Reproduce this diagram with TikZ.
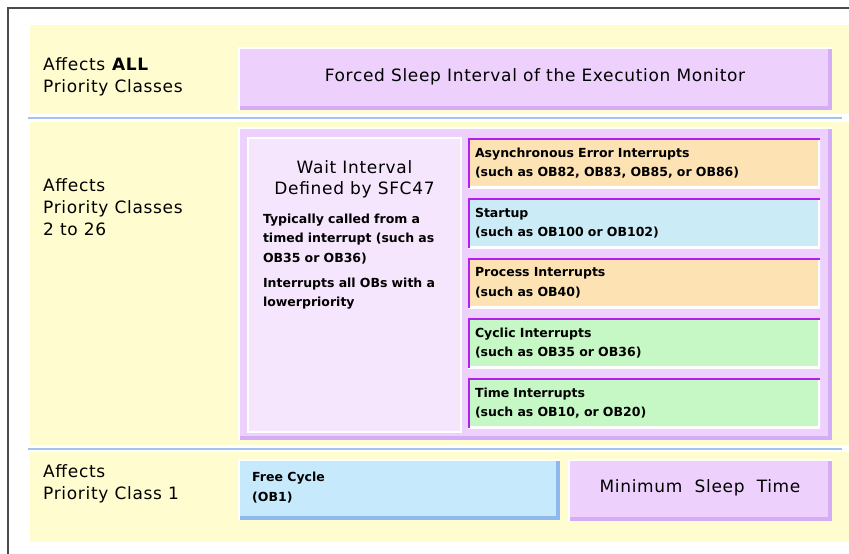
\documentclass[tikz,border=0pt]{standalone}
\usepackage{fontspec}
\setmainfont{DejaVu Sans}[LetterSpace=4]
\newfontfamily\obfont{DejaVu Sans}
\usetikzlibrary{positioning}

\definecolor{bandyellow}{HTML}{FFFDCF}
\definecolor{bandline}{HTML}{A3C2EE}
\definecolor{lilac}{HTML}{EDD1FC}
\definecolor{lilacdark}{HTML}{D4ADF6}
\definecolor{lilacpale}{HTML}{F6E6FD}
\definecolor{obedge}{HTML}{B11EEE}
\definecolor{oborange}{HTML}{FDE3B4}
\definecolor{obblue}{HTML}{CBECF6}
\definecolor{obgreen}{HTML}{C5F8C4}
\definecolor{cycleblue}{HTML}{C6EAFC}
\definecolor{cycledark}{HTML}{8DB8F0}
\definecolor{framegray}{HTML}{4A4A4A}

\newcommand{\bigtxt}{\fontsize{17}{21.7}\selectfont}
\newcommand{\obtxt}{\obfont\bfseries\fontsize{12.5}{19.5}\selectfont}

\begin{document}
\begin{tikzpicture}[
		x=1pt, y=-1pt,
		% raised panel: fill, darker bottom/right edge, white top/left edge
		raised/.style 2 args={
			fill=#1, inner sep=0pt, outer sep=0pt, anchor=north west,
			path picture={
				\fill[#2] (path picture bounding box.south west) rectangle ([yshift=4pt]path picture bounding box.south east);
				\fill[#2] ([xshift=-4pt]path picture bounding box.south east) rectangle (path picture bounding box.north east);
				\draw[white, line width=3pt] (path picture bounding box.south west) |- (path picture bounding box.north east);
			}
		},
		% OB panels with magenta top/left edge
		obbox/.style={
			fill=#1, anchor=north west, outer sep=0pt,
			minimum width=352pt, minimum height=50pt,
			text width=338pt, inner xsep=7pt, inner ysep=0pt, align=left,
			font=\obtxt,
			path picture={
				\draw[white, line width=4pt] (path picture bounding box.south west) -| (path picture bounding box.north east);
				\draw[obedge, line width=3pt] (path picture bounding box.south west) |- (path picture bounding box.north east);
			}
		},
		class label/.style={anchor=west, align=left, inner sep=0pt, font=\bigtxt},
		sep line/.style={bandline, line width=2pt}
		]
		
		\useasboundingbox (0,0) rectangle (849,554);
		
		% ==============================================================================
		% 1. FRAME AND BANDS
		% ==============================================================================
		\draw[framegray, line width=2pt] (849,8) -- (8,8) -- (8,554);
		\fill[bandyellow] (30,25) rectangle (849,114);
		\fill[bandyellow] (30,122) rectangle (849,445);
		\fill[bandyellow] (30,452) rectangle (849,542);
		\draw[sep line] (28,117.5) -- (842,117.5);
		\draw[sep line] (28,448.5) -- (842,448.5);
		
		\node[class label] (all) at (43,77) {Affects \textbf{ALL}\\Priority Classes};
		\node[class label] (mid) at (43,207) {Affects\\Priority Classes\\2 to 26};
		\node[class label] (one) at (43,484) {Affects\\Priority Class 1};
		
		% ==============================================================================
		% 2. TOP BAND: Forced Sleep
		% ==============================================================================
		\node[raised={lilac}{lilacdark}, minimum width=594pt, minimum height=63pt] (forced) at (238,47) {};
		\node[font=\bigtxt, inner sep=0pt] (forcedtxt) at ([yshift=2pt]forced.center) {Forced Sleep Interval of the Execution Monitor};
		
		% ==============================================================================
		% 3. MIDDLE BAND: Wait Interval and OBs
		% ==============================================================================
		\node[raised={lilac}{lilacdark}, minimum width=594pt, minimum height=313pt] (waitrow) at (238,127) {};
		
		\node[fill=lilacpale, draw=white, line width=1.5pt, anchor=north west, outer sep=0pt,
			minimum width=213pt, minimum height=294pt] (wait) at (248,138) {};
		\node[below=22pt of wait.north, align=center, inner sep=0pt, font=\bigtxt] (waithead) {Wait Interval\\Defined by SFC47};
		\node[below=15pt of waithead, text width=183pt, align=left, inner sep=0pt, font=\obtxt] (waitnote) {
			Typically called from a\\
			timed interrupt (such as\\
			OB35 or OB36)\\[5.5pt]
			Interrupts all OBs with a\\
			lowerpriority
		};
		
		\node[obbox=oborange] (async) at (468,138) {Asynchronous Error Interrupts\\(such as OB82, OB83, OB85, or OB86)};
		\node[obbox=obblue, below=10pt of async] (startup) {Startup\\(such as OB100 or OB102)};
		\node[obbox=oborange, below=10pt of startup] (process) {Process Interrupts\\(such as OB40)};
		\node[obbox=obgreen, below=10pt of process] (cyclic) {Cyclic Interrupts\\(such as OB35 or OB36)};
		\node[obbox=obgreen, below=10pt of cyclic] (timeint) {Time Interrupts\\(such as OB10, or OB20)};
		
		% ==============================================================================
		% 4. BOTTOM BAND: Free Cycle and Minimum Sleep
		% ==============================================================================
		\node[raised={cycleblue}{cycledark}, minimum width=322pt, minimum height=61pt] (cycle) at (238,459) {};
		\node[anchor=west, align=left, inner sep=0pt, font=\obtxt] (cycletxt) at ([xshift=14pt,yshift=2pt]cycle.west) {Free Cycle\\(OB1)};
		\node[raised={lilac}{lilacdark}, minimum width=264pt, minimum height=62pt, right=8pt of cycle.north east, anchor=north west] (minsleep) {};
		\node[font=\bigtxt, inner sep=0pt] (minsleeptxt) at ([yshift=2pt]minsleep.center) {Minimum\ \ Sleep\ \ Time};
	\end{tikzpicture}
\end{document}
